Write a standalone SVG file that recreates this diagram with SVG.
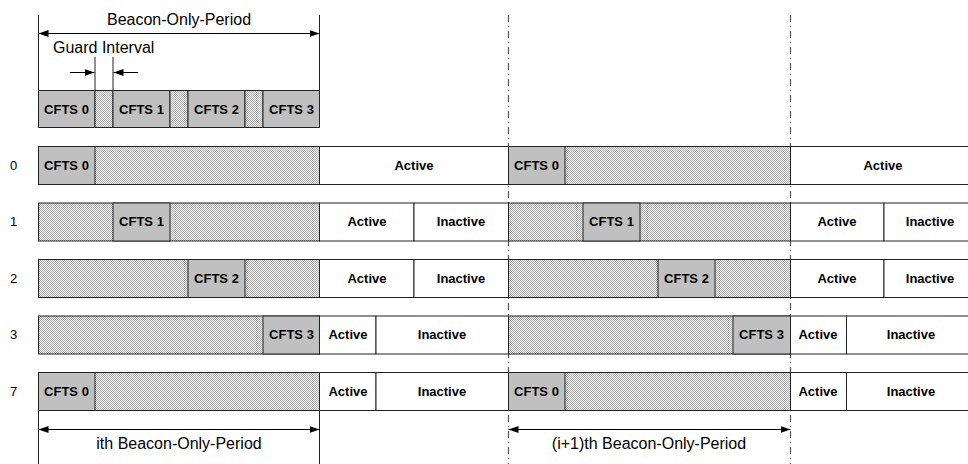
<svg xmlns="http://www.w3.org/2000/svg" width="968" height="464" viewBox="0 0 968 464">
<style>
.cf{fill:#c0c0c0;stroke:#222;stroke-width:1}
.ht{fill:url(#hatch);stroke:#222;stroke-width:1}
.wh{fill:#fff;stroke:#222;stroke-width:1}
.lb{font-family:"Liberation Sans",Arial,sans-serif;font-weight:bold;font-size:13px;text-anchor:middle;fill:#000}
.rl{font-family:"Liberation Sans",Arial,sans-serif;font-size:13px;text-anchor:middle;fill:#000}
.tt{font-family:"Liberation Sans",Arial,sans-serif;font-size:16px;fill:#000}
.ln{stroke:#222;stroke-width:1;fill:none}
.ar{stroke:#000;stroke-width:1;fill:none;marker-end:url(#ah)}
.ar2{stroke:#000;stroke-width:1;fill:none;marker-start:url(#ah);marker-end:url(#ah)}
.dd{stroke:#555;stroke-width:1.2;stroke-dasharray:7 4 1 4;fill:none}
</style>
<defs>
<pattern id="hatch" width="2" height="2" patternUnits="userSpaceOnUse">
<rect width="2" height="2" fill="#fff"/>
<rect width="1" height="1" fill="#a0a0a0"/>
<rect x="1" y="1" width="1" height="1" fill="#a0a0a0"/>
</pattern>
<marker id="ah" markerUnits="userSpaceOnUse" markerWidth="11" markerHeight="8" refX="10" refY="3.5" orient="auto-start-reverse">
<path d="M0,0 L10,3.5 L0,7 z" fill="#000"/>
</marker>
</defs>
<rect width="968" height="464" fill="#fff"/>

<g id="connectors">
<line class="dd" x1="508.5" y1="15" x2="508.5" y2="464"/>
<line class="dd" x1="790.5" y1="15" x2="790.5" y2="464"/>
<line class="ln" x1="38.5" y1="15" x2="38.5" y2="90"/>
<line class="ln" x1="319.5" y1="15" x2="319.5" y2="90"/>
<line class="ar2" x1="38.5" y1="33.5" x2="319.5" y2="33.5"/>
<line class="ln" x1="95" y1="57" x2="95" y2="90"/>
<line class="ln" x1="113" y1="57" x2="113" y2="90"/>
<line class="ar" x1="70" y1="72.5" x2="94.5" y2="72.5"/>
<line class="ar" x1="138" y1="72.5" x2="113.5" y2="72.5"/>
<line class="ln" x1="38.5" y1="410" x2="38.5" y2="464"/>
<line class="ln" x1="319.5" y1="410" x2="319.5" y2="464"/>
<line class="ar2" x1="38.5" y1="429.5" x2="319.5" y2="429.5"/>
<line class="ar2" x1="508.5" y1="429.5" x2="790.5" y2="429.5"/>
</g>

<g id="labels">
<text class="tt" x="179" y="25" text-anchor="middle">Beacon-Only-Period</text>
<text class="tt" x="53" y="53">Guard Interval</text>
<text class="tt" x="179" y="449" text-anchor="middle">ith Beacon-Only-Period</text>
<text class="tt" x="649" y="449" text-anchor="middle">(i+1)th Beacon-Only-Period</text>
</g>

<g id="top-slots">
<rect class="cf" x="38.5" y="90.5" width="56.5" height="37"/>
<rect class="ht" x="95" y="90.5" width="18" height="37"/>
<rect class="cf" x="113" y="90.5" width="57" height="37"/>
<rect class="ht" x="170" y="90.5" width="18" height="37"/>
<rect class="cf" x="188" y="90.5" width="57" height="37"/>
<rect class="ht" x="245" y="90.5" width="18" height="37"/>
<rect class="cf" x="263" y="90.5" width="56.5" height="37"/>
<text class="lb" x="66.5" y="113.5">CFTS 0</text>
<text class="lb" x="141.5" y="113.5">CFTS 1</text>
<text class="lb" x="216.5" y="113.5">CFTS 2</text>
<text class="lb" x="291.5" y="113.5">CFTS 3</text>
</g>

<g id="row0">
<text class="rl" x="13.5" y="169.5">0</text>
<rect class="ht" x="38.5" y="146.5" width="281" height="38"/>
<rect class="cf" x="38.5" y="146.5" width="56.5" height="38"/>
<text class="lb" x="66.5" y="169.5">CFTS 0</text>
<rect class="wh" x="319.5" y="146.5" width="189" height="38"/>
<text class="lb" x="414" y="169.5">Active</text>
<rect class="ht" x="508.5" y="146.5" width="282" height="38"/>
<rect class="cf" x="508.5" y="146.5" width="56.5" height="38"/>
<text class="lb" x="536.5" y="169.5">CFTS 0</text>
<rect class="wh" x="790.5" y="146.5" width="190" height="38"/>
<text class="lb" x="883" y="169.5">Active</text>
</g>

<g id="row1">
<text class="rl" x="13.5" y="226">1</text>
<rect class="ht" x="38.5" y="203" width="281" height="38"/>
<rect class="cf" x="113" y="203" width="57" height="38"/>
<text class="lb" x="141.5" y="226">CFTS 1</text>
<rect class="wh" x="319.5" y="203" width="94.5" height="38"/>
<text class="lb" x="367" y="226">Active</text>
<rect class="wh" x="414" y="203" width="94.5" height="38"/>
<text class="lb" x="461" y="226">Inactive</text>
<rect class="ht" x="508.5" y="203" width="282" height="38"/>
<rect class="cf" x="583" y="203" width="57" height="38"/>
<text class="lb" x="611.5" y="226">CFTS 1</text>
<rect class="wh" x="790.5" y="203" width="93.5" height="38"/>
<text class="lb" x="837" y="226">Active</text>
<rect class="wh" x="884" y="203" width="96" height="38"/>
<text class="lb" x="930" y="226">Inactive</text>
</g>

<g id="row2">
<text class="rl" x="13.5" y="282.5">2</text>
<rect class="ht" x="38.5" y="259.5" width="281" height="38"/>
<rect class="cf" x="188" y="259.5" width="57" height="38"/>
<text class="lb" x="216.5" y="282.5">CFTS 2</text>
<rect class="wh" x="319.5" y="259.5" width="94.5" height="38"/>
<text class="lb" x="367" y="282.5">Active</text>
<rect class="wh" x="414" y="259.5" width="94.5" height="38"/>
<text class="lb" x="461" y="282.5">Inactive</text>
<rect class="ht" x="508.5" y="259.5" width="282" height="38"/>
<rect class="cf" x="658" y="259.5" width="57" height="38"/>
<text class="lb" x="686.5" y="282.5">CFTS 2</text>
<rect class="wh" x="790.5" y="259.5" width="93.5" height="38"/>
<text class="lb" x="837" y="282.5">Active</text>
<rect class="wh" x="884" y="259.5" width="96" height="38"/>
<text class="lb" x="930" y="282.5">Inactive</text>
</g>

<g id="row3">
<text class="rl" x="13.5" y="339">3</text>
<rect class="ht" x="38.5" y="316" width="281" height="38"/>
<rect class="cf" x="263" y="316" width="56.5" height="38"/>
<text class="lb" x="291.5" y="339">CFTS 3</text>
<rect class="wh" x="319.5" y="316" width="56.5" height="38"/>
<text class="lb" x="348" y="339">Active</text>
<rect class="wh" x="376" y="316" width="132.5" height="38"/>
<text class="lb" x="442" y="339">Inactive</text>
<rect class="ht" x="508.5" y="316" width="282" height="38"/>
<rect class="cf" x="733" y="316" width="57.5" height="38"/>
<text class="lb" x="761.5" y="339">CFTS 3</text>
<rect class="wh" x="790.5" y="316" width="56" height="38"/>
<text class="lb" x="818" y="339">Active</text>
<rect class="wh" x="846.5" y="316" width="134" height="38"/>
<text class="lb" x="911" y="339">Inactive</text>
</g>

<g id="row7">
<text class="rl" x="13.5" y="395.5">7</text>
<rect class="ht" x="38.5" y="372.5" width="281" height="38"/>
<rect class="cf" x="38.5" y="372.5" width="56.5" height="38"/>
<text class="lb" x="66.5" y="395.5">CFTS 0</text>
<rect class="wh" x="319.5" y="372.5" width="56.5" height="38"/>
<text class="lb" x="348" y="395.5">Active</text>
<rect class="wh" x="376" y="372.5" width="132.5" height="38"/>
<text class="lb" x="442" y="395.5">Inactive</text>
<rect class="ht" x="508.5" y="372.5" width="282" height="38"/>
<rect class="cf" x="508.5" y="372.5" width="56.5" height="38"/>
<text class="lb" x="536.5" y="395.5">CFTS 0</text>
<rect class="wh" x="790.5" y="372.5" width="56" height="38"/>
<text class="lb" x="818" y="395.5">Active</text>
<rect class="wh" x="846.5" y="372.5" width="134" height="38"/>
<text class="lb" x="911" y="395.5">Inactive</text>
</g>
</svg>
